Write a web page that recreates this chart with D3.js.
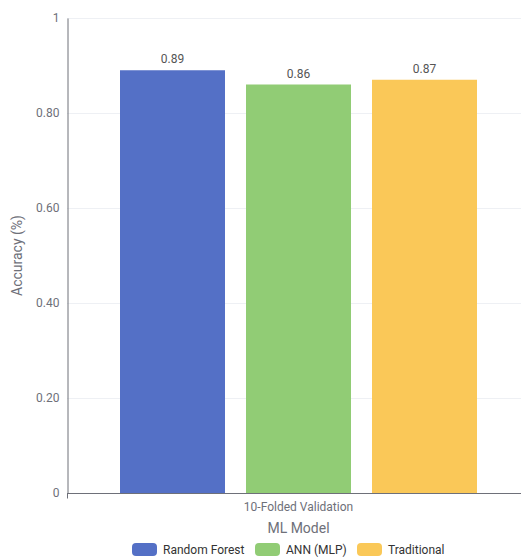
<!DOCTYPE html>
<html>
<head>
<meta charset="utf-8">
<script src="https://cdn.jsdelivr.net/npm/d3@7"></script>
<style>
  html, body { margin: 0; padding: 0; background: #fff; }
  svg text { font-family: Roboto, "Noto Sans", sans-serif; }
</style>
</head>
<body>
<svg id="chart" width="521" height="558"></svg>
<script>
// Accuracy of each model under 10-fold validation
const categories = ["10-Folded Validation"];
const seriesNames = ["Random Forest", "ANN (MLP)", "Traditional"];
const seriesValues = [[0.89], [0.86], [0.87]];
const yTicks = [0, 0.2, 0.4, 0.6, 0.8, 1];
const yTickLabels = ["0", "0.20", "0.40", "0.60", "0.80", "1"];
const colors = ["#5470c6", "#91cc75", "#fac858"];

const svg = d3.select("#chart");
const margin = { left: 67, right: -9, top: 18, bottom: 65 };
const W = 521, H = 558;

const x0 = d3.scaleBand().domain(categories).range([margin.left, W - margin.right]).paddingInner(0).paddingOuter(0);
const y = d3.scaleLinear().domain([0, 1]).range([H - margin.bottom, margin.top]);

// grid lines
svg.append("g").selectAll("line").data(yTicks.filter(d => d > 0)).join("line")
  .attr("x1", margin.left).attr("x2", W - margin.right)
  .attr("y1", d => Math.round(y(d)) + 0.5).attr("y2", d => Math.round(y(d)) + 0.5)
  .attr("stroke", "#eef0f4").attr("stroke-width", 1);

// bars
const barW = 105, gap = 21;
const groupW = seriesNames.length * barW + (seriesNames.length - 1) * gap;
const x1 = d3.scaleBand().domain(seriesNames).range([0, groupW]).paddingInner(gap / (barW + gap)).paddingOuter(0);

categories.forEach((cat, ci) => {
  const gx = x0(cat) + x0.bandwidth() / 2 - groupW / 2;
  const g = svg.append("g").attr("transform", `translate(${gx},0)`);
  seriesNames.forEach((s, si) => {
    const v = seriesValues[si][ci];
    g.append("rect")
      .attr("x", x1(s)).attr("width", x1.bandwidth())
      .attr("y", y(v)).attr("height", y(0) - y(v))
      .attr("fill", colors[si]);
    g.append("text")
      .attr("x", x1(s) + x1.bandwidth() / 2).attr("y", y(v) - 7)
      .attr("text-anchor", "middle").attr("font-size", 12).attr("fill", "#555")
      .text(v.toFixed(2));
  });
});

// y axis
const yAxis = d3.axisLeft(y).tickValues(yTicks).tickFormat((d, i) => yTickLabels[i]).tickSize(0).tickPadding(8);
const ya = svg.append("g").attr("transform", `translate(${margin.left + 0.5},0)`).call(yAxis);
ya.select(".domain").attr("stroke", "#6e7079");
ya.selectAll("text").attr("font-size", 12).attr("fill", "#6e7079").attr("font-family", "Roboto, sans-serif");

// x axis
const xAxis = d3.axisBottom(x0).tickSize(0).tickPadding(9);
const xa = svg.append("g").attr("transform", `translate(0,${Math.round(y(0)) + 0.5})`).call(xAxis);
xa.select(".domain").attr("stroke", "#6e7079").attr("d", `M${margin.left},0H${W - margin.right}`);
xa.selectAll("text").attr("font-size", 12).attr("fill", "#6e7079").attr("font-family", "Roboto, sans-serif");
xa.append("line").attr("x1", margin.left + 0.5).attr("x2", margin.left + 0.5).attr("y1", 0).attr("y2", 5).attr("stroke", "#6e7079");

// axis titles
svg.append("text").attr("transform", `translate(22,${(y(0) + y(1)) / 2}) rotate(-90)`)
  .attr("text-anchor", "middle").attr("font-size", 14).attr("fill", "#6e7079").text("Accuracy (%)");
svg.append("text").attr("x", x0(categories[0]) + x0.bandwidth() / 2).attr("y", 533)
  .attr("text-anchor", "middle").attr("font-size", 14).attr("fill", "#6e7079").text("ML Model");

// legend
const legendX = [132, 255, 357];
const lg = svg.append("g");
seriesNames.forEach((s, i) => {
  lg.append("rect").attr("x", legendX[i]).attr("y", 543).attr("width", 25).attr("height", 13)
    .attr("rx", 4).attr("fill", colors[i]);
  lg.append("text").attr("x", legendX[i] + 31).attr("y", 554)
    .attr("font-size", 12).attr("fill", "#333").text(s);
});
</script>
</body>
</html>
